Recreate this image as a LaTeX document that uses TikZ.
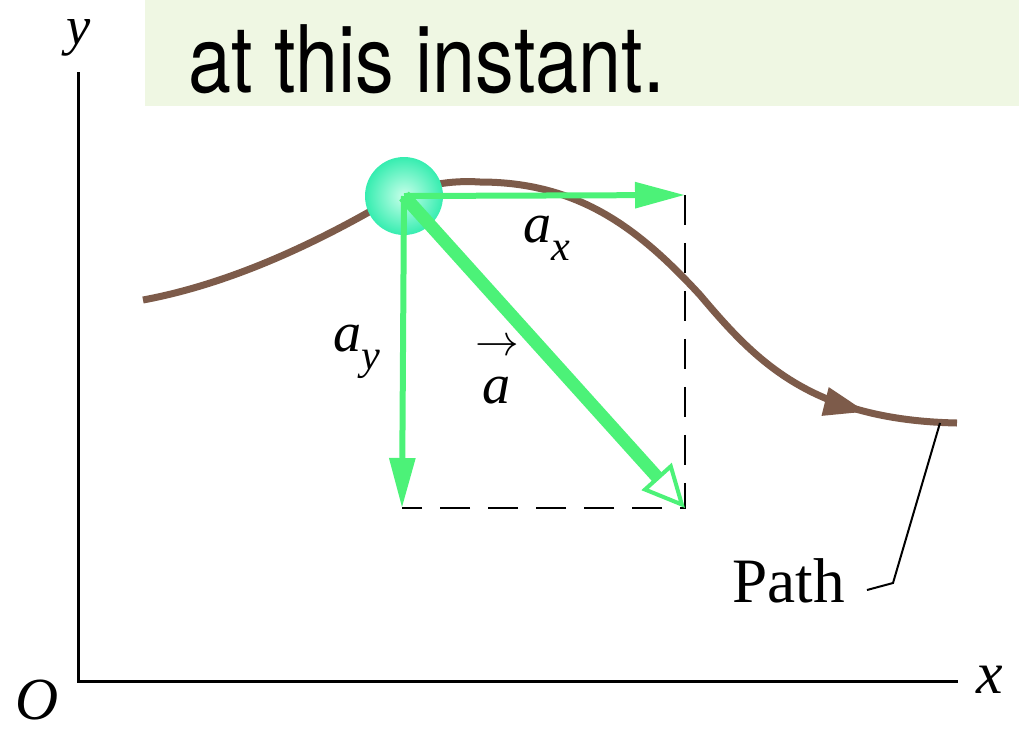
\documentclass[tikz,border=0pt]{standalone}
\usepackage{fontspec}
\setmainfont{Liberation Serif}
\setsansfont{TeX Gyre Heros}
\usetikzlibrary{arrows.meta, decorations.markings}
\definecolor{vecgreen}{HTML}{4CF278}
\definecolor{pathbrown}{HTML}{7D5B4A}
\definecolor{notefill}{HTML}{EFF7E3}
\definecolor{ballrim}{HTML}{36EDB0}
\definecolor{ballglow}{HTML}{C8FFEA}
\tikzstyle{axis} = [line width=0.06cm, black]
\tikzstyle{lbl} = [font=\fontsize{32}{36}\selectfont\itshape, inner sep=0pt]
\tikzstyle{axlabel} = [font=\fontsize{31}{36}\selectfont\itshape, inner sep=0pt]
\tikzstyle{comp} = [line width=0.12cm, vecgreen, -{Triangle[length=1cm,width=0.5cm]}]
\tikzstyle{resultant} = [line width=0.26cm, vecgreen,
    -{Triangle[open,length=0.85cm,width=0.8cm,line width=0.08cm]}]
\tikzstyle{guide} = [line width=0.05cm, dash pattern=on 0.6cm off 0.36cm]
\tikzstyle{trajectory} = [line width=0.14cm, pathbrown, line cap=butt,
    postaction={decorate},
    decoration={markings, mark=at position 0.9 with
        {\arrow{Triangle[length=0.85cm,width=0.55cm]}}}]
\tikzstyle{leader} = [line width=0.04cm, black]

\begin{document}
\begin{tikzpicture}[x=0.02cm, y=-0.02cm]
\useasboundingbox (0,0) rectangle (1019,731);

\fill[notefill] (145,0) rectangle (1019,106);
\node (note) [anchor=base west, inner sep=0pt,
    font=\fontsize{53}{60}\selectfont\sffamily] at (188,92)
    {\scalebox{0.83}[1]{at this instant.}};

\coordinate (origin) at (78,681);
\coordinate (ytop) at (78,72);
\coordinate (xend) at (958,681);
\draw[axis] (ytop) -- (origin) -- (xend);
\node (ylbl) [axlabel] at (79,38) {y};
\node (xlbl) [axlabel, font=\fontsize{34}{38}\selectfont\itshape] at (990,680) {x};
\node (olbl) [axlabel, font=\fontsize{34}{38}\selectfont\itshape] at (37,700) {O};

\draw[trajectory] (143,300) .. controls (240,282) and (330,235) .. (390,200)
    .. controls (420,185) and (450,180) .. (480,182)
    .. controls (580,182) and (640,230) .. (700,295)
    .. controls (755,360) and (810,420) .. (957,423);

\node (ball) [circle, minimum size=1.56cm, inner sep=0pt,
    shading=radial, inner color=ballglow, outer color=ballrim] at (404,196) {};

\coordinate (axtip) at (685,195);
\coordinate (aytip) at (402,508);
\coordinate (atip) at (685,508);

\draw[guide] (axtip) -- (atip) -- (aytip);
\draw[comp] (ball.center) -- (axtip);
\draw[comp] (ball.center) -- (aytip);
\draw[resultant] (ball.center) -- (atip);

\node (axlbl) [lbl] at (547,238) {a\raisebox{-10pt}{\fontsize{24}{28}\selectfont x}};
\node (aylbl) [lbl] at (357,352) {a\raisebox{-10pt}{\fontsize{24}{28}\selectfont y}};
\node (albl) [lbl] at (497,372)
    {\shortstack{\fontsize{28}{28}\selectfont$\rightarrow$\\[9pt]a}};

\coordinate (pathpt) at (940,423);
\coordinate (bend) at (893,583);
\node (pathlbl) [lbl, font=\fontsize{36}{40}\selectfont, anchor=base east]
    at (845,602) {Path};
\draw[leader] ([xshift=0.44cm, yshift=0.24cm]pathlbl.base east) -- (bend) -- (pathpt);

\end{tikzpicture}
\end{document}
